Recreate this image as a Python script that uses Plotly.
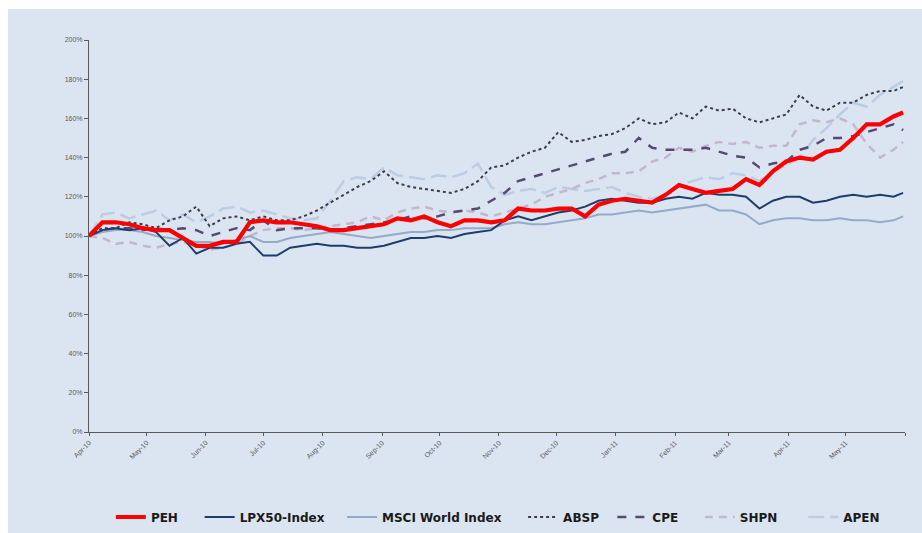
import pandas as pd
import plotly.graph_objects as go

# Weekly observation dates (Thursdays) plus the final month-end close
dates = list(pd.date_range("2010-04-01", "2011-05-26", freq="7D")) + [pd.Timestamp("2011-05-31")]

# Indexed performance, start = 100%
peh = [100, 107, 107, 106, 104, 103, 103, 99, 95, 95, 97, 97, 107, 108, 107,
       107, 106, 105, 103, 103, 104, 105, 106, 109, 108, 110, 107, 105, 108, 108,
       107, 108, 114, 113, 113, 114, 114, 110, 116, 118, 119, 118, 117, 121, 126,
       124, 122, 123, 124, 129, 126, 133, 138, 140, 139, 143, 144, 150, 157, 157,
       161, 163]
lpx50 = [100, 103, 104, 103, 104, 102, 95, 99, 91, 94, 94, 96, 97, 90, 90,
         94, 95, 96, 95, 95, 94, 94, 95, 97, 99, 99, 100, 99, 101, 102,
         103, 108, 110, 108, 110, 112, 113, 115, 118, 119, 118, 117, 117, 119, 120,
         119, 122, 121, 121, 120, 114, 118, 120, 120, 117, 118, 120, 121, 120, 121,
         120, 122]
msci = [100, 102, 103, 103, 102, 100, 99, 98, 97, 97, 96, 98, 100, 97, 97,
        99, 100, 101, 102, 101, 100, 99, 100, 101, 102, 102, 103, 103, 104, 104,
        104, 106, 107, 106, 106, 107, 108, 109, 111, 111, 112, 113, 112, 113, 114,
        115, 116, 113, 113, 111, 106, 108, 109, 109, 108, 108, 109, 108, 108, 107,
        108, 110]
absp = [100, 104, 104, 107, 106, 104, 108, 110, 115, 105, 109, 110, 108, 110, 108,
        108, 110, 113, 117, 121, 125, 128, 133, 127, 125, 124, 123, 122, 124, 128,
        135, 136, 140, 143, 145, 153, 148, 149, 151, 152, 155, 160, 157, 158, 163,
        160, 166, 164, 165, 160, 158, 160, 162, 172, 166, 164, 168, 168, 172, 174,
        174, 176]
cpe = [100, 103, 104, 104, 103, 104, 103, 104, 103, 100, 102, 104, 103, 108, 103,
       104, 104, 104, 103, 104, 105, 106, 107, 108, 110, 109, 110, 112, 113, 114,
       118, 122, 128, 130, 132, 134, 136, 138, 140, 142, 143, 150, 145, 144, 144,
       144, 145, 143, 141, 140, 135, 137, 138, 144, 146, 150, 150, 151, 153, 155,
       157, 154]
shpn = [100, 99, 96, 97, 95, 94, 96, 97, 95, 93, 94, 96, 100, 103, 104,
        104, 103, 104, 105, 106, 107, 110, 108, 112, 114, 115, 113, 112, 113, 112,
        110, 112, 114, 116, 120, 122, 124, 127, 129, 132, 132, 133, 138, 140, 145,
        143, 146, 148, 147, 148, 145, 146, 146, 157, 159, 158, 160, 157, 147, 140,
        144, 148]
apen = [100, 111, 112, 109, 111, 113, 108, 111, 107, 110, 114, 115, 112, 113, 111,
        109, 108, 109, 118, 128, 130, 129, 135, 131, 130, 129, 131, 130, 132, 137,
        125, 121, 123, 124, 122, 125, 124, 123, 124, 125, 122, 120, 119, 121, 126,
        128, 130, 129, 132, 131, 128, 133, 136, 140, 149, 155, 162, 168, 166, 172,
        176, 179]

# Monthly axis ticks; the closing tick at the axis end carries no label
tick_dates = list(pd.date_range("2010-04-01", "2011-06-01", freq="MS"))
tick_labels = [d.strftime("%b-%y") for d in tick_dates[:-1]] + [""]

# name, values, line style, trailing spacing in the legend row
series = [
    ("PEH", peh, dict(color="#ff0000", width=4.2, dash="solid"), 4),
    ("LPX50-Index", lpx50, dict(color="#1f3d6b", width=2, dash="solid"), 3),
    ("MSCI World Index", msci, dict(color="#93aac8", width=2, dash="solid"), 4),
    ("ABSP", absp, dict(color="#3c3c4c", width=2, dash="dot"), 2),
    ("CPE", cpe, dict(color="#564a72", width=2.5, dash="dash"), 4),
    ("SHPN", shpn, dict(color="#c3b6cf", width=2.5, dash="8px,6px"), 5),
    ("APEN", apen, dict(color="#bccde3", width=2.5, dash="16px,6px"), 0),
]

fig = go.Figure()
# Draw back-to-front so the PEH line sits on top
for name, vals, line, pad in reversed(series):
    fig.add_trace(go.Scatter(x=dates, y=vals, name=name + "\u00a0" * pad, mode="lines",
                             line=line, hoverinfo="skip"))

L, R, T, B = 89, 17, 40, 101
W, H = 922, 533
pw, ph = W - L - R, H - T - B
panel = "#dbe5f1"

fig.update_layout(
    width=W, height=H,
    margin=dict(l=L, r=R, t=T, b=B, pad=0),
    paper_bgcolor="white",
    plot_bgcolor=panel,
    font=dict(family="Arial, Liberation Sans, sans-serif", color="#595959"),
    showlegend=True,
    legend=dict(orientation="h", traceorder="reversed",
                xref="container", yref="container",
                x=0.54, xanchor="center", y=1 - 517 / H, yanchor="middle",
                font=dict(size=12, color="#1a1a1a", family="DejaVu Sans, sans-serif", weight="bold"),
                bgcolor="rgba(0,0,0,0)", itemwidth=30, tracegroupgap=0),
    shapes=[dict(type="rect", xref="paper", yref="paper",
                 x0=(8 - L) / pw, x1=(W - L) / pw,
                 y0=-B / ph, y1=(H - 9 - B) / ph,
                 fillcolor=panel, line=dict(width=0), layer="below")],
)

fig.update_xaxes(
    type="date",
    range=["2010-04-01", "2011-06-01"],
    tickvals=tick_dates, ticktext=tick_labels,
    tickangle=-45, tickfont=dict(size=7, color="#595959"),
    showgrid=False, zeroline=False,
    showline=True, linecolor="#5a5a5a", linewidth=1,
    ticks="outside", ticklen=3, tickcolor="#5a5a5a",
)
fig.update_yaxes(
    range=[0, 200], dtick=20, tick0=0, ticksuffix="%",
    tickfont=dict(size=7, color="#595959"),
    showgrid=False, zeroline=False,
    showline=True, linecolor="#5a5a5a", linewidth=1,
    ticks="outside", ticklen=4, tickcolor="#5a5a5a",
)

fig.write_html("out.html")
